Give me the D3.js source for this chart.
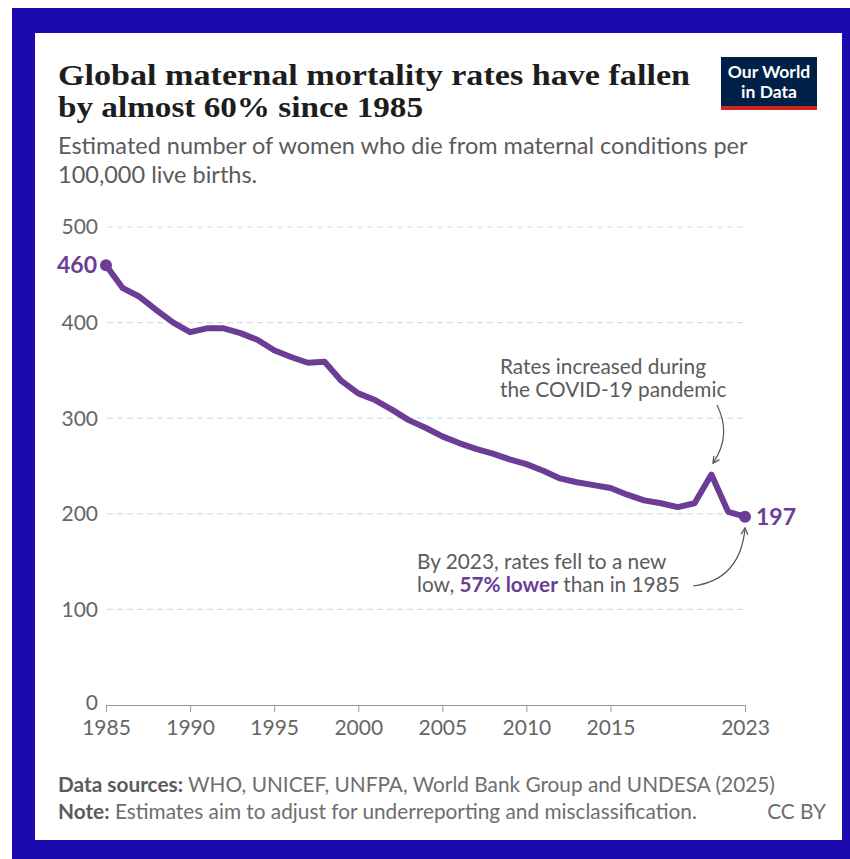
<!DOCTYPE html>
<html lang="en">
<head>
<meta charset="UTF-8">
<script src="https://d3js.org/d3.v7.min.js"></script>
<title>Global maternal mortality</title>
<style>
  body { margin: 0; background: #fff; }
  svg { display: block; }
  text { font-family: Lato, "Open Sans", sans-serif; }
</style>
</head>
<body>
<svg id="chart" width="850" height="859"></svg>
<script>
// data (deaths per 100,000 live births)
const years = d3.range(1985, 2024);
const rates = [460, 436, 427, 413, 400, 390, 394, 394, 389, 382,
               371, 364, 358, 359, 339, 326, 319, 309, 298, 290,
               281, 274, 268, 263, 257, 252, 245, 237, 233, 230,
               227, 220, 214, 211, 207, 211, 241, 202, 197];
const yTicks = [0, 100, 200, 300, 400, 500];
const xTicks = [1985, 1990, 1995, 2000, 2005, 2010, 2015, 2023];

const purple = "#6b3d96";
const grey = "#5b5b5b";

const svg = d3.select("#chart");

// frame
svg.append("rect").attr("x", 12).attr("y", 8).attr("width", 838).attr("height", 851).attr("fill", "#1c0ab0");
svg.append("rect").attr("x", 35).attr("y", 33).attr("width", 807).attr("height", 807).attr("fill", "#fff");

// title
const title = svg.append("text")
  .style("font-family", "'Liberation Serif', 'DejaVu Serif', serif")
  .style("font-weight", "bold")
  .style("font-size", "30px")
  .attr("fill", "#1d1d1d");
title.append("tspan").attr("x", 58).attr("y", 85)
  .attr("textLength", 632).attr("lengthAdjust", "spacingAndGlyphs")
  .text("Global maternal mortality rates have fallen");
title.append("tspan").attr("x", 58).attr("y", 117)
  .attr("textLength", 365).attr("lengthAdjust", "spacingAndGlyphs")
  .text("by almost 60% since 1985");

// subtitle
svg.append("text").attr("x", 58).attr("y", 154)
  .style("font-size", "23.5px").attr("fill", grey)
  .text("Estimated number of women who die from maternal conditions per");
svg.append("text").attr("x", 58).attr("y", 183)
  .style("font-size", "23.5px").attr("fill", grey)
  .text("100,000 live births.");

// logo
const logo = svg.append("g");
logo.append("rect").attr("x", 721).attr("y", 57).attr("width", 96).attr("height", 53).attr("fill", "#002147");
logo.append("rect").attr("x", 721).attr("y", 106).attr("width", 96).attr("height", 4).attr("fill", "#ce261e");
logo.append("text").attr("x", 769).attr("y", 78).attr("text-anchor", "middle")
  .style("font-size", "17.5px").style("font-weight", "bold").attr("fill", "#fff").text("Our World");
logo.append("text").attr("x", 769).attr("y", 98).attr("text-anchor", "middle")
  .style("font-size", "17.5px").style("font-weight", "bold").attr("fill", "#fff").text("in Data");

// scales
const x = d3.scaleLinear().domain([1985, 2023]).range([106, 745]);
const y = d3.scaleLinear().domain([0, 500]).range([705, 227]);

// gridlines
svg.append("g").selectAll("line")
  .data(yTicks.filter(d => d > 0))
  .enter().append("line")
  .attr("x1", 107).attr("x2", 745)
  .attr("y1", d => y(d)).attr("y2", d => y(d))
  .attr("stroke", "#dcdcdc").attr("stroke-width", 1.2)
  .attr("stroke-dasharray", "6,4");

// y labels
svg.append("g").selectAll("text")
  .data(yTicks)
  .enter().append("text")
  .attr("x", 98).attr("y", d => y(d) - (d === 0 ? 2 : 0)).attr("dy", "0.35em")
  .attr("text-anchor", "end")
  .style("font-size", "21px").attr("fill", "#666")
  .text(d => d);

// x axis
const xAxis = svg.append("g")
  .attr("transform", "translate(0," + y(0) + ")")
  .call(d3.axisBottom(x).tickValues(xTicks).tickFormat(d3.format("d")).tickSize(7).tickPadding(8));
xAxis.select(".domain").attr("stroke", "#999");
xAxis.selectAll(".tick line").attr("stroke", "#999");
xAxis.selectAll(".tick text")
  .style("font-family", "Lato, sans-serif").style("font-size", "21px").attr("fill", "#666");

// line
const pts = years.map((yr, i) => [yr, rates[i]]);
svg.append("path")
  .datum(pts)
  .attr("fill", "none")
  .attr("stroke", purple)
  .attr("stroke-width", 6)
  .attr("stroke-linejoin", "round")
  .attr("stroke-linecap", "round")
  .attr("d", d3.line().x(d => x(d[0])).y(d => y(d[1])));

const ends = [pts[0], pts[pts.length - 1]];
svg.append("g").selectAll("circle")
  .data(ends)
  .enter().append("circle")
  .attr("cx", d => x(d[0])).attr("cy", d => y(d[1]))
  .attr("r", 6).attr("fill", purple);

// end value labels
svg.append("text").attr("x", 97).attr("y", y(rates[0])).attr("dy", "0.35em")
  .attr("text-anchor", "end")
  .style("font-size", "23px").style("font-weight", "bold").attr("fill", purple)
  .text(rates[0]);
svg.append("text").attr("x", x(2023) + 11).attr("y", y(rates[rates.length - 1])).attr("dy", "0.35em")
  .style("font-size", "23px").style("font-weight", "bold").attr("fill", purple)
  .text(rates[rates.length - 1]);

// annotations
svg.append("defs").append("marker")
  .attr("id", "arr").attr("viewBox", "0 0 10 10")
  .attr("refX", 8).attr("refY", 5)
  .attr("markerWidth", 7).attr("markerHeight", 7)
  .attr("orient", "auto-start-reverse")
  .append("path").attr("d", "M1,1 L9,5 L1,9").attr("fill", "none").attr("stroke", "#555").attr("stroke-width", 1.5);

svg.append("text").attr("x", 500).attr("y", 374)
  .style("font-size", "20.8px").attr("fill", grey).text("Rates increased during");
svg.append("text").attr("x", 500).attr("y", 397)
  .style("font-size", "20.8px").attr("fill", grey).text("the COVID-19 pandemic");

const peakX = x(2021), peakY = y(241);
svg.append("path")
  .attr("d", "M717,405 Q732,435 " + (peakX + 2) + "," + (peakY - 12))
  .attr("fill", "none").attr("stroke", "#555").attr("stroke-width", 1.2)
  .attr("marker-end", "url(#arr)");

svg.append("text").attr("x", 417).attr("y", 569)
  .style("font-size", "20.8px").attr("fill", grey)
  .text("By 2023, rates fell to a new");
const lower2 = svg.append("text").attr("x", 417).attr("y", 592)
  .style("font-size", "20.8px").attr("fill", grey);
lower2.append("tspan").text("low, ");
lower2.append("tspan").style("font-weight", "bold").attr("fill", purple).text("57% lower");
lower2.append("tspan").text(" than in 1985");

svg.append("path")
  .attr("d", "M693,586 Q740,580 " + (x(2023)) + "," + (y(197) + 12))
  .attr("fill", "none").attr("stroke", "#555").attr("stroke-width", 1.2)
  .attr("marker-end", "url(#arr)");

// footer
const f1 = svg.append("text").attr("x", 58).attr("y", 792)
  .style("font-size", "20.8px").attr("fill", "#6e6e6e");
f1.append("tspan").style("font-weight", "bold").attr("fill", grey).text("Data sources:");
f1.append("tspan").text(" WHO, UNICEF, UNFPA, World Bank Group and UNDESA (2025)");
const f2 = svg.append("text").attr("x", 58).attr("y", 819)
  .style("font-size", "20.8px").attr("fill", "#6e6e6e");
f2.append("tspan").style("font-weight", "bold").attr("fill", grey).text("Note:");
f2.append("tspan").text(" Estimates aim to adjust for underreporting and misclassification.");
svg.append("text").attr("x", 826).attr("y", 819).attr("text-anchor", "end")
  .style("font-size", "20.8px").attr("fill", "#6e6e6e").text("CC BY");
</script>
</body>
</html>
